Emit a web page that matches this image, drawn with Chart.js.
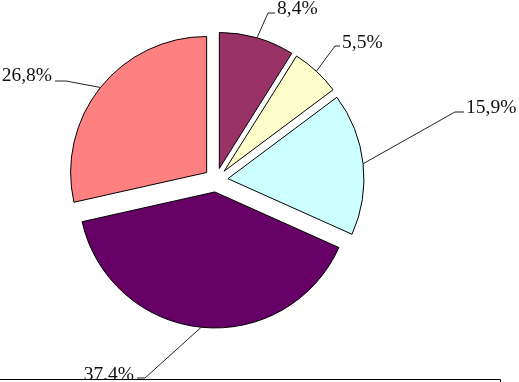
<!DOCTYPE html>
<html>
<head>
<meta charset="utf-8">
<script src="https://cdn.jsdelivr.net/npm/chart.js@4.4.1/dist/chart.umd.min.js"></script>
<style>
    html, body { margin: 0; padding: 0; background: #fff; }
    #wrap { width: 519px; height: 382px; position: relative; }
</style>
</head>
<body>
<div id="wrap"><canvas id="pieChart" width="519" height="382"></canvas></div>
<script>
// Shares as printed on the chart (they add up to 94, the pie uses them as proportions)
const sliceValues = [8.4, 5.5, 15.9, 37.4, 26.8];
const sliceColors = ['#993366', '#FFFFCC', '#CCFFFF', '#660066', '#FF8080'];

// Where each label sits: elbow of the leader line, then text anchor
const labelElbowX = [268, 335, 455, 145, 66];
const labelElbowY = [13, 46, 112, 378, 81];
const labelTextX  = [277, 342, 466, 134, 52];
const labelTextY  = [14, 48, 113, 380, 81];
const labelAlign  = ['left', 'left', 'left', 'right', 'right'];

const EXPLODE = 12;   // px each slice is pulled out from the centre

// Pull slices out along their bisector without letting Chart.js grow the radius
(function() {
    const origDraw = Chart.ArcElement.prototype.draw;
    Chart.ArcElement.prototype.draw = function(ctx) {
        const half = (this.startAngle + this.endAngle) / 2;
        ctx.save();
        ctx.translate(Math.cos(half) * EXPLODE, Math.sin(half) * EXPLODE);
        origDraw.call(this, ctx);
        ctx.restore();
    };
})();

function formatShare(v) {
    return v.toFixed(1).replace('.', ',') + '%';
}

const labelPlugin = {
    id: 'leaderLabels',
    afterDatasetsDraw(chart) {
        const ctx = chart.ctx;
        const arcs = chart.getDatasetMeta(0).data;
        ctx.save();
        ctx.font = '19.5px "Liberation Serif", "Times New Roman", serif';
        ctx.textBaseline = 'alphabetic';
        arcs.forEach((arc, i) => {
            const p = arc.getProps(['x', 'y', 'startAngle', 'endAngle', 'outerRadius'], true);
            const half = (p.startAngle + p.endAngle) / 2;
            const cx = p.x + Math.cos(half) * EXPLODE;
            const cy = p.y + Math.sin(half) * EXPLODE;
            const ax = cx + Math.cos(half) * p.outerRadius;
            const ay = cy + Math.sin(half) * p.outerRadius;
            const endX = labelAlign[i] === 'left' ? labelTextX[i] - 2 : labelTextX[i] + 3;

            ctx.strokeStyle = '#222';
            ctx.lineWidth = 1;
            ctx.beginPath();
            ctx.moveTo(ax, ay);
            ctx.lineTo(labelElbowX[i], labelElbowY[i]);
            ctx.lineTo(endX, labelElbowY[i]);
            ctx.stroke();

            ctx.fillStyle = '#111';
            ctx.textAlign = labelAlign[i];
            ctx.fillText(formatShare(sliceValues[i]), labelTextX[i], labelTextY[i]);
        });

        // top edge of the (cut off) legend frame
        ctx.fillStyle = '#fff';
        ctx.fillRect(0, 379, 501, 3);
        ctx.strokeStyle = '#000';
        ctx.beginPath();
        ctx.moveTo(0, 379.5);
        ctx.lineTo(500.5, 379.5);
        ctx.lineTo(500.5, 382);
        ctx.stroke();
        ctx.restore();
    }
};

new Chart(document.getElementById('pieChart').getContext('2d'), {
    type: 'pie',
    data: {
        labels: sliceValues.map(formatShare),
        datasets: [{
            data: sliceValues,
            backgroundColor: sliceColors,
            borderColor: '#000',
            borderWidth: 1,
            radius: 136
        }]
    },
    options: {
        responsive: false,
        animation: false,
        layout: { padding: { left: 0, right: 87, top: 0, bottom: 22 } },
        plugins: {
            legend: { display: false },
            tooltip: { enabled: false }
        }
    },
    plugins: [labelPlugin]
});
</script>
</body>
</html>
